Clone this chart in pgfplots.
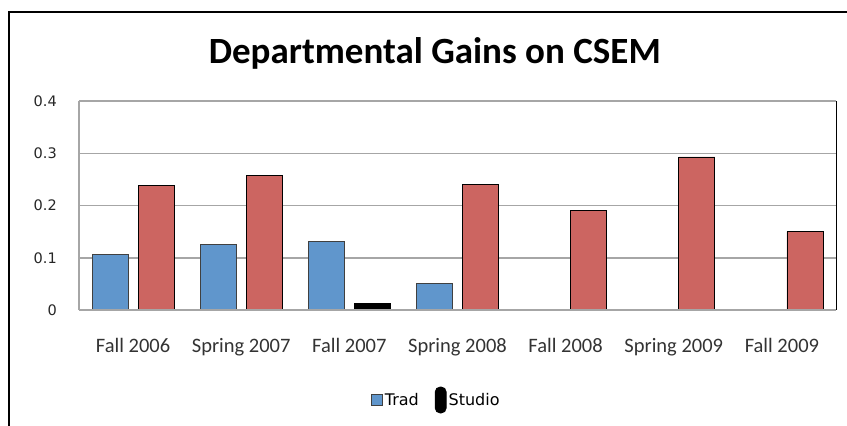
\documentclass[border=0pt]{standalone}
\usepackage{fontspec}
\setmainfont{Carlito}
\newfontfamily\dejavu{DejaVu Sans}
\usepackage{pgfplots}
\pgfplotsset{compat=1.18}
\definecolor{tradblue}{HTML}{6096CC}
\definecolor{studred}{HTML}{CC6561}
\definecolor{gridgray}{HTML}{A6A6A6}
\begin{document}
\begin{tikzpicture}[x=1pt,y=1pt]
\path[use as bounding box] (0,0) rectangle (847,426);
\draw[line width=2.5pt] (9,0) -- (9,414) -- (847,414);
\begin{axis}[
  at={(79pt,116pt)}, anchor=south west,
  scale only axis, width=757pt, height=209pt,
  xmin=-0.5, xmax=6.5, ymin=0, ymax=0.4,
  xtick={0,1,2,3,4,5,6},
  xticklabels={Fall 2006, Spring 2007, Fall 2007, Spring 2008, Fall 2008, Spring 2009, Fall 2009},
  ytick={0,0.1,0.2,0.3,0.4},
  yticklabels={0,0.1,0.2,0.3,0.4},
  major tick length=0pt,
  axis line style={draw=none},
  ymajorgrids, grid style={gridgray, line width=1.5pt},
  xticklabel style={font=\fontsize{20.5}{24}\selectfont, text=black!80, anchor=base, yshift=-43pt},
  yticklabel style={font=\dejavu\fontsize{14.5}{16}\selectfont, text=black!85, anchor=east, inner sep=0pt, xshift=-22pt},
  title={\textbf{Departmental Gains on CSEM}},
  title style={font=\fontsize{37}{42}\selectfont, at={(0.47,1)}, anchor=center, yshift=42pt},
  legend style={draw=none, fill=none, at={(0.472,0)}, anchor=center, yshift=-90pt,
    legend columns=2, font=\dejavu\fontsize{16}{18}\selectfont,
    /tikz/every even column/.append style={column sep=14pt}},
  clip=false,
]
\addplot[ybar, bar width=36pt, bar shift=-23pt, fill=tradblue, draw=black!75, line width=0.8pt,
  legend image code/.code={\draw[fill=tradblue, draw=black!75, line width=0.8pt] (0pt,-5.5pt) rectangle (11pt,5.5pt);}]
  coordinates {(0,0.107) (1,0.126) (2,0.132) (3,0.050)};
\addlegendentry{Trad}
\addplot[ybar, bar width=36pt, bar shift=23pt, fill=black, draw=black, line width=0.8pt,
  legend image code/.code={\fill[black, rounded corners=5pt] (0pt,-13pt) rectangle (11pt,13pt);}]
  coordinates {(2,0.013)};
\addlegendentry{Studio}
\addplot[ybar, bar width=36pt, bar shift=23pt, fill=studred, draw=black, line width=0.8pt, forget plot]
  coordinates {(0,0.239) (1,0.257) (3,0.241) (4,0.190) (5,0.293) (6,0.150)};
\draw[gridgray, line width=1.5pt] (rel axis cs:0,0) -- (rel axis cs:1,0);
\draw[gridgray, line width=1.5pt] (rel axis cs:0,0) -- (rel axis cs:0,1);
\draw[black, line width=1pt] (rel axis cs:1,0) -- (rel axis cs:1,1);
\end{axis}
\end{tikzpicture}
\end{document}
